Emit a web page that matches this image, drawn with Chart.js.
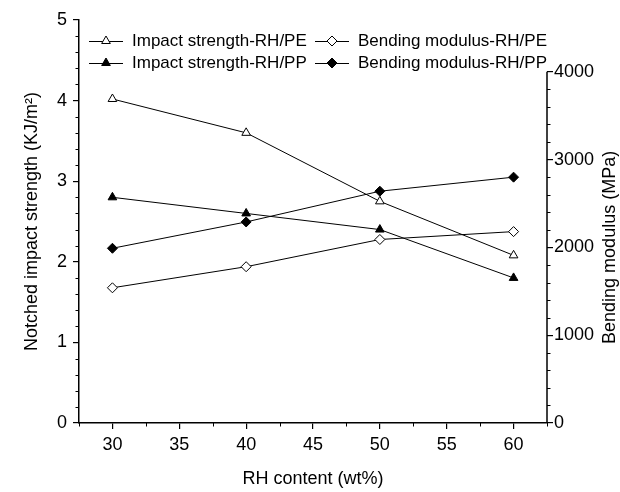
<!DOCTYPE html>
<html>
<head>
<meta charset="utf-8">
<script src="https://cdn.jsdelivr.net/npm/chart.js@4/dist/chart.umd.min.js"></script>
<style>
  html, body { margin: 0; padding: 0; background: #fff; }
</style>
</head>
<body>
<canvas id="chart" width="620" height="492"></canvas>
<script>
// data
const rhContent = [30, 40, 50, 60];
const impactPE = [4.02, 3.6, 2.75, 2.08];
const impactPP = [2.8, 2.6, 2.4, 1.8];
const bendingPE = [1540, 1780, 2090, 2180];
const bendingPP = [1990, 2290, 2640, 2800];

// tick labels
const xTicks = [30, 35, 40, 45, 50, 55, 60];
const xMinorTicks = [27.5, 32.5, 37.5, 42.5, 47.5, 52.5, 57.5, 62.5];
const yTicks = [0, 1, 2, 3, 4, 5];
const y1Ticks = [0, 1000, 2000, 3000, 4000];

const FONT = "'Liberation Sans', Arial, sans-serif";
Chart.defaults.font.family = FONT;
Chart.defaults.color = '#000';

function series(label, values, axis, style, filled) {
  return {
    label: label,
    yAxisID: axis,
    data: rhContent.map((x, i) => ({ x: x, y: values[i] })),
    borderColor: '#000',
    borderWidth: 1,
    pointStyle: style,
    pointRadius: 5,
    pointHoverRadius: 5,
    pointBackgroundColor: filled ? '#000' : '#fff',
    pointBorderColor: '#000',
    pointBorderWidth: 1,
    tension: 0,
    fill: false
  };
}

// small marker drawing for the legend
function drawMarker(ctx, style, x, y, r, filled) {
  ctx.beginPath();
  if (style === 'triangle') {
    ctx.moveTo(x, y - r);
    ctx.lineTo(x + r * Math.sin(Math.PI / 3), y + r / 2);
    ctx.lineTo(x - r * Math.sin(Math.PI / 3), y + r / 2);
  } else {
    ctx.moveTo(x - r, y);
    ctx.lineTo(x, y - r);
    ctx.lineTo(x + r, y);
    ctx.lineTo(x, y + r);
  }
  ctx.closePath();
  ctx.fillStyle = filled ? '#000' : '#fff';
  ctx.fill();
  ctx.lineWidth = 1;
  ctx.strokeStyle = '#000';
  ctx.stroke();
}

const extras = {
  id: 'extras',
  afterDraw(chart) {
    const ctx = chart.ctx;
    const area = chart.chartArea;
    const x = chart.scales.x, y = chart.scales.y, y1 = chart.scales.y1;
    ctx.save();
    ctx.strokeStyle = '#000';
    ctx.lineWidth = 1;

    // minor ticks
    ctx.beginPath();
    xMinorTicks.forEach(v => {
      const px = Math.round(x.getPixelForValue(v)) + 0.5;
      ctx.moveTo(px, area.bottom);
      ctx.lineTo(px, area.bottom + 3.5);
    });
    for (let i = 1; i < 25; i++) {
      if (i % 5 === 0) continue;
      const py = Math.round(y.getPixelForValue(i * 0.2)) + 0.5;
      ctx.moveTo(area.left, py);
      ctx.lineTo(area.left - 3.5, py);
    }
    for (let i = 1; i < 20; i++) {
      if (i % 5 === 0) continue;
      const py = Math.round(y1.getPixelForValue(i * 200)) + 0.5;
      ctx.moveTo(area.right, py);
      ctx.lineTo(area.right + 3.5, py);
    }
    ctx.stroke();

    // right axis line only covers 0..4000
    const top1 = y1.getPixelForValue(y1Ticks[y1Ticks.length - 1]);
    const bot1 = y1.getPixelForValue(0);
    ctx.lineWidth = 1.5;
    ctx.beginPath();
    ctx.moveTo(area.right, bot1);
    ctx.lineTo(area.right, top1);
    ctx.stroke();

    // right axis title, reading bottom to top
    ctx.save();
    ctx.translate(chart.width - 10, (top1 + bot1) / 2);
    ctx.rotate(-Math.PI / 2);
    ctx.font = '18px ' + FONT;
    ctx.fillStyle = '#000';
    ctx.textAlign = 'center';
    ctx.textBaseline = 'middle';
    ctx.fillText('Bending modulus (MPa)', 0, 0);
    ctx.restore();

    // legend in two columns inside the plot
    const colX = [area.left + 10, area.left + 236];
    const rowY = [area.top + 21, area.top + 43];
    ctx.font = '17px ' + FONT;
    ctx.textAlign = 'left';
    ctx.textBaseline = 'middle';
    chart.data.datasets.forEach((ds, i) => {
      const lx = colX[Math.floor(i / 2)];
      const ly = rowY[i % 2];
      ctx.lineWidth = 1;
      ctx.strokeStyle = '#000';
      ctx.beginPath();
      ctx.moveTo(lx, ly + 0.5);
      ctx.lineTo(lx + 34, ly + 0.5);
      ctx.stroke();
      drawMarker(ctx, ds.pointStyle, lx + 17, ly, 5, ds.pointBackgroundColor === '#000');
      ctx.fillStyle = '#000';
      ctx.fillText(ds.label, lx + 43, ly);
    });
    ctx.restore();
  }
};

new Chart(document.getElementById('chart').getContext('2d'), {
  type: 'line',
  data: {
    datasets: [
      series('Impact strength-RH/PE', impactPE, 'y', 'triangle', false),
      series('Impact strength-RH/PP', impactPP, 'y', 'triangle', true),
      series('Bending modulus-RH/PE', bendingPE, 'y1', 'rectRot', false),
      series('Bending modulus-RH/PP', bendingPP, 'y1', 'rectRot', true)
    ]
  },
  options: {
    responsive: false,
    animation: false,
    devicePixelRatio: 1,
    layout: { padding: { top: 20, left: 0, right: 0, bottom: 0 } },
    plugins: {
      legend: { display: false },
      tooltip: { enabled: false }
    },
    scales: {
      x: {
        type: 'linear',
        position: 'bottom',
        min: 27.5,
        max: 62.5,
        afterBuildTicks: s => { s.ticks = xTicks.map(v => ({ value: v })); },
        afterFit: s => { s.height = 69; },
        ticks: { font: { size: 18 }, padding: 5, maxRotation: 0, autoSkip: false, callback: v => String(v) },
        grid: { drawOnChartArea: false, drawTicks: true, tickLength: 6, color: '#000', lineWidth: 1.2 },
        border: { color: '#000', width: 1.5 },
        title: { display: true, text: 'RH content (wt%)', font: { size: 18 }, padding: { top: 0, bottom: 2 } }
      },
      y: {
        type: 'linear',
        position: 'left',
        min: 0,
        max: 5,
        afterBuildTicks: s => { s.ticks = yTicks.map(v => ({ value: v })); },
        afterFit: s => { s.width = 79; },
        ticks: { font: { size: 18 }, padding: 6, callback: v => String(v) },
        grid: { drawOnChartArea: false, drawTicks: true, tickLength: 6, color: '#000', lineWidth: 1.2 },
        border: { color: '#000', width: 1.5 },
        title: { display: true, text: 'Notched impact strength (KJ/m²)', font: { size: 18 }, padding: { top: 21, bottom: 0 } }
      },
      y1: {
        type: 'linear',
        position: 'right',
        min: 0,
        max: 4590,
        afterBuildTicks: s => { s.ticks = y1Ticks.map(v => ({ value: v })); },
        afterFit: s => { s.width = 73; },
        ticks: { font: { size: 18 }, padding: 1, callback: v => String(v) },
        grid: { drawOnChartArea: false, drawTicks: true, tickLength: 6, color: '#000', lineWidth: 1.2 },
        border: { display: false },
        title: { display: false }
      }
    }
  },
  plugins: [extras]
});
</script>
</body>
</html>
